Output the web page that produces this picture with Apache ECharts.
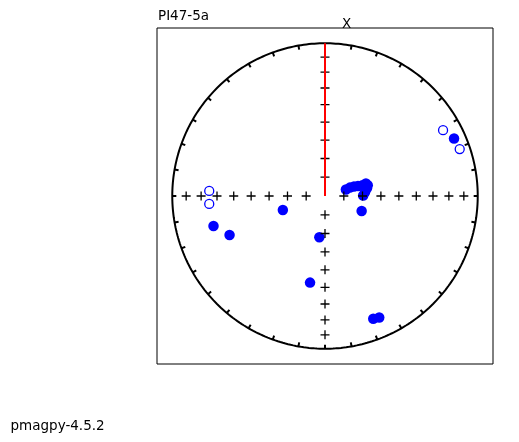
<!DOCTYPE html>
<html>
<head>
<meta charset="utf-8">
<script src="https://cdn.jsdelivr.net/npm/echarts@6/dist/echarts.min.js"></script>
<style>
  html, body { margin: 0; padding: 0; background: #fff; }
  #chart { width: 519px; height: 442px; }
</style>
</head>
<body>
<div id="chart"></div>
<script>
const specimen = 'PI47-5a'
const northLabel = 'X'
const version = 'pmagpy-4.5.2'

// directions in equal-area net coordinates (unit circle)
// lower hemisphere -> filled
const lowerX = [0.137, 0.163, 0.190, 0.216, 0.245, 0.268, 0.280, 0.275, 0.262, 0.250, 0.240,
  0.845, -0.730, -0.625, -0.276, -0.037, -0.098, 0.316, 0.355]
const lowerY = [0.042, 0.055, 0.062, 0.066, 0.070, 0.082, 0.070, 0.050, 0.025, 0.003, -0.098,
  0.377, -0.196, -0.255, -0.092, -0.270, -0.567, -0.804, -0.795]
// upper hemisphere -> open
const upperX = [0.773, 0.882, -0.758, -0.758]
const upperY = [0.431, 0.307, 0.033, -0.052]

// net furniture
const plusIncs = [10, 20, 30, 40, 50, 60, 70, 80]
const plusDecs = [0, 90, 180, 270]
const tickDecs = [0, 10, 20, 30, 40, 50, 60, 70, 80, 90, 100, 110, 120, 130, 140, 150, 160, 170,
  180, 190, 200, 210, 220, 230, 240, 250, 260, 270, 280, 290, 300, 310, 320, 330, 340, 350]

const rad = Math.PI / 180

// equal area projection, dec clockwise from top
function dimap (dec, inc) {
  const r = Math.sqrt(1 - Math.abs(Math.sin(inc * rad)))
  return [r * Math.sin(dec * rad), r * Math.cos(dec * rad)]
}

const circle = []
for (let d = 0; d <= 360; d += 1) circle.push(dimap(d, 0))

const ticks = tickDecs.map(d => ({ coords: [dimap(d, 0), dimap(d, 3)] }))

const pluses = []
plusDecs.forEach(d => {
  plusIncs.forEach(i => pluses.push(dimap(d, i)))
})

const lowerPts = lowerX.map((x, i) => [x, lowerY[i]])
const upperPts = upperX.map((x, i) => [x, upperY[i]])

const font = '13.5px "DejaVu Sans"'

const chart = echarts.init(document.getElementById('chart'))
chart.setOption({
  animation: false,
  grid: {
    left: 157,
    top: 28,
    width: 336,
    height: 336,
    show: true,
    borderColor: '#000',
    borderWidth: 1,
    backgroundColor: 'transparent'
  },
  xAxis: { type: 'value', min: -1.1, max: 1.1, show: false },
  yAxis: { type: 'value', min: -1.1, max: 1.1, show: false },
  graphic: [
    {
      type: 'text', x: 158, y: 16,
      style: { text: specimen, font: font, fill: '#000', verticalAlign: 'middle' }
    },
    {
      type: 'text', x: 346.5, y: 24,
      style: { text: northLabel, font: font, fill: '#000', align: 'center', verticalAlign: 'middle' }
    },
    {
      type: 'text', x: 10.5, y: 426,
      style: { text: version, font: font, fill: '#000', verticalAlign: 'middle' }
    }
  ],
  series: [
    {
      type: 'line',
      data: circle,
      showSymbol: false,
      silent: true,
      lineStyle: { color: '#000', width: 2 },
      z: 2
    },
    {
      type: 'lines',
      coordinateSystem: 'cartesian2d',
      data: ticks,
      silent: true,
      lineStyle: { color: '#000', width: 2, opacity: 1 },
      z: 2
    },
    {
      type: 'scatter',
      data: lowerPts,
      symbol: 'circle',
      symbolSize: 10.5,
      silent: true,
      itemStyle: { color: '#0000ff', opacity: 1 },
      z: 3
    },
    {
      type: 'scatter',
      data: upperPts,
      symbol: 'circle',
      symbolSize: 9,
      silent: true,
      itemStyle: { color: '#fff', borderColor: '#0000ff', borderWidth: 1.3, opacity: 1 },
      z: 3
    },
    {
      type: 'scatter',
      data: pluses,
      symbol: 'path://M0,5L10,5M5,0L5,10',
      symbolSize: 9,
      silent: true,
      itemStyle: { color: 'rgba(0,0,0,0)', borderColor: '#000', borderWidth: 1.3, opacity: 1 },
      z: 4
    },
    {
      type: 'line',
      data: [[0, 0], [0, 1]],
      showSymbol: false,
      silent: true,
      lineStyle: { color: '#ff0000', width: 2 },
      z: 5
    }
  ]
})
</script>
</body>
</html>
